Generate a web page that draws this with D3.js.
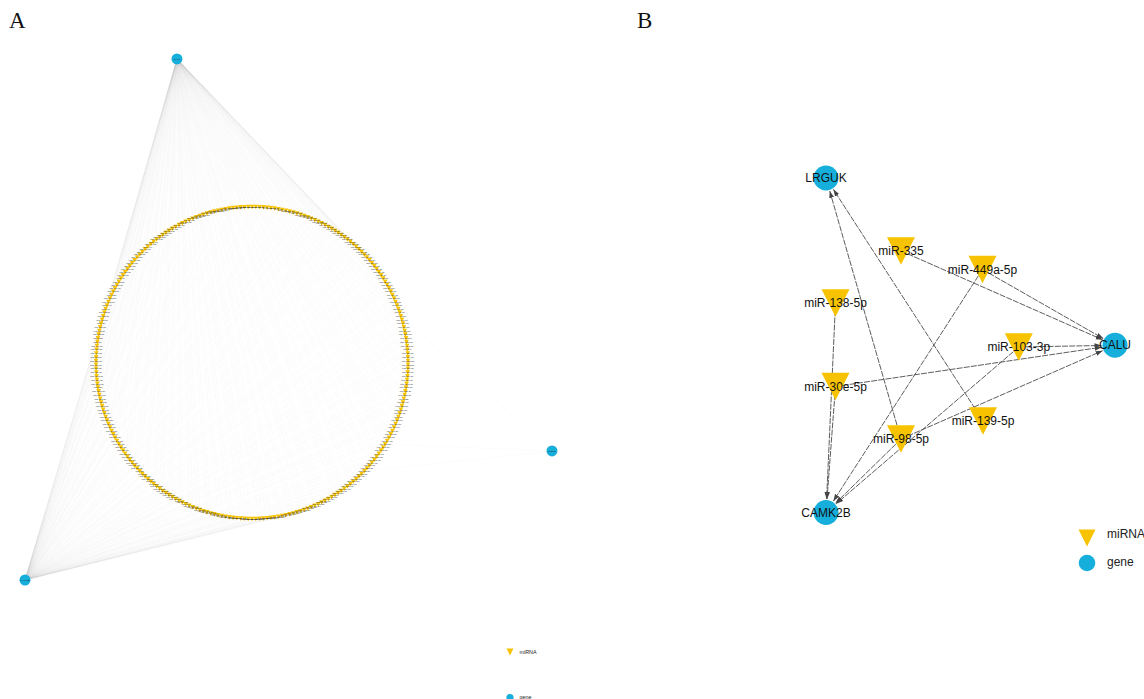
<!DOCTYPE html>
<html><head><meta charset="utf-8">
<script src="https://cdn.jsdelivr.net/npm/d3@7"></script>
<style>body{margin:0;background:#fff}svg{display:block}</style>
</head><body>
<svg id="c" width="1144" height="699"></svg>
<script>
// ---------------- DATA ----------------
const panelLabels = ["A", "B"];
const legendLabels = ["miRNA", "gene"];

// Panel A: full network (miRNAs arranged on a circle, three target genes)
const genesA = ["CALU", "CAMK2B", "LRGUK"];
const mirnasA = ("let-7a-5p let-7b-5p let-7c-5p let-7d-5p let-7e-5p let-7f-5p let-7g-5p let-7i-5p " +
 "miR-1-3p miR-7-5p miR-9-5p miR-10a-5p miR-10b-5p miR-15a-5p miR-15b-5p miR-16-5p miR-17-5p miR-18a-5p " +
 "miR-19a-3p miR-19b-3p miR-20a-5p miR-20b-5p miR-21-5p miR-22-3p miR-23a-3p miR-23b-3p miR-24-3p miR-25-3p " +
 "miR-26a-5p miR-26b-5p miR-27a-3p miR-27b-3p miR-29a-3p miR-29b-3p miR-29c-3p miR-30a-5p miR-30b-5p miR-30c-5p " +
 "miR-30d-5p miR-30e-5p miR-31-5p miR-32-5p miR-33a-5p miR-33b-5p miR-34a-5p miR-34b-5p miR-34c-5p miR-92a-3p " +
 "miR-92b-3p miR-93-5p miR-95-3p miR-96-5p miR-98-5p miR-99a-5p miR-99b-5p miR-100-5p miR-101-3p miR-103a-3p " +
 "miR-105-5p miR-106a-5p miR-106b-5p miR-107 miR-122-5p miR-124-3p miR-125a-5p miR-125b-5p miR-126-3p miR-127-3p " +
 "miR-128-3p miR-129-5p miR-130a-3p miR-130b-3p miR-132-3p miR-133a-3p miR-133b miR-134-5p miR-135a-5p miR-135b-5p " +
 "miR-136-5p miR-137 miR-138-5p miR-139-5p miR-140-5p miR-141-3p miR-142-3p miR-143-3p miR-144-3p miR-145-5p " +
 "miR-146a-5p miR-146b-5p miR-147a miR-148a-3p miR-148b-3p miR-149-5p miR-150-5p miR-151a-3p miR-152-3p miR-153-3p " +
 "miR-154-5p miR-155-5p miR-181a-5p miR-181b-5p miR-181c-5p miR-181d-5p miR-182-5p miR-183-5p miR-184 miR-185-5p " +
 "miR-186-5p miR-187-3p miR-188-5p miR-190a-5p miR-191-5p miR-192-5p miR-193a-3p miR-193b-3p miR-194-5p miR-195-5p " +
 "miR-196a-5p miR-196b-5p miR-197-3p miR-198 miR-199a-5p miR-199b-5p miR-200a-3p miR-200b-3p miR-200c-3p miR-202-3p " +
 "miR-203a-3p miR-204-5p miR-205-5p miR-206 miR-208a-3p miR-210-3p miR-211-5p miR-212-3p miR-214-3p miR-215-5p " +
 "miR-216a-5p miR-217 miR-218-5p miR-219a-5p miR-221-3p miR-222-3p miR-223-3p miR-224-5p miR-296-5p miR-297 " +
 "miR-299-3p miR-300 miR-301a-3p miR-301b-3p miR-302a-3p miR-302b-3p miR-302c-3p miR-302d-3p miR-320a-3p miR-320b " +
 "miR-320c miR-323a-3p miR-324-5p miR-325 miR-326 miR-328-3p miR-329-3p miR-330-3p miR-331-3p miR-335-5p " +
 "miR-337-3p miR-338-3p miR-339-5p miR-340-5p miR-342-3p miR-345-5p miR-346 miR-361-5p miR-362-5p miR-363-3p " +
 "miR-365a-3p miR-367-3p miR-369-3p miR-370-3p miR-371a-3p miR-372-3p miR-373-3p miR-374a-5p miR-374b-5p miR-375 " +
 "miR-376a-3p miR-377-3p miR-378a-3p miR-379-5p miR-380-3p miR-381-3p miR-382-5p miR-383-5p miR-409-3p miR-410-3p " +
 "miR-411-5p miR-421 miR-422a miR-423-5p miR-424-5p miR-425-5p miR-429 miR-431-5p miR-432-5p miR-433-3p " +
 "miR-448 miR-449a miR-449b-5p miR-450a-5p miR-451a miR-452-5p miR-454-3p miR-455-3p miR-483-5p miR-484 " +
 "miR-485-5p miR-486-5p miR-487b-3p miR-488-3p miR-489-3p miR-490-3p miR-491-5p miR-493-5p miR-494-3p miR-495-3p " +
 "miR-496 miR-497-5p miR-498 miR-499a-5p miR-500a-5p miR-501-5p miR-502-3p miR-503-5p miR-504-5p miR-505-3p " +
 "miR-506-3p miR-507 miR-508-3p miR-509-3p miR-510-5p miR-511-5p miR-512-3p miR-513a-5p miR-514a-3p miR-515-5p " +
 "miR-516a-5p miR-517a-3p miR-518a-3p miR-519a-3p miR-520a-3p miR-521 miR-522-3p miR-523-3p miR-524-5p miR-525-5p").split(" ");
// target gene(s) of each miRNA in panel A: a = CALU, b = CAMK2B, c = CALU + CAMK2B, d = CALU + LRGUK
const targetCodesA = ("acbcaabcac bbacacabca acbcabacbc aacbacabca acbcbaacab cadcabacbc abcacbaacb cabacbcaab " +
 "cbacaccdab acbcabdcab cabcacabba cacbcaabca bacbacacbc aacbcabacb cabcaacbac bcabacacbc abcacbaacb cbacabcabc " +
 "acbcaabcab cabacbcaca bcacabcbac acbacabcac bcaacbcaba cbcabacbca abcacabcbc acabcbca").replace(/ /g, "");
const codeGenes = { a: ["CALU"], b: ["CAMK2B"], c: ["CALU", "CAMK2B"], d: ["CALU", "LRGUK"] };

// Panel B: filtered network
const genesB = ["LRGUK", "CALU", "CAMK2B"];
const mirnasB = ["miR-335", "miR-449a-5p", "miR-138-5p", "miR-103-3p", "miR-30e-5p", "miR-139-5p", "miR-98-5p"];
const edgesB = [
  ["miR-335", "CALU"], ["miR-449a-5p", "CALU"], ["miR-449a-5p", "CAMK2B"],
  ["miR-138-5p", "CAMK2B"], ["miR-30e-5p", "CAMK2B"], ["miR-30e-5p", "CALU"],
  ["miR-103-3p", "CALU"], ["miR-103-3p", "CAMK2B"], ["miR-98-5p", "LRGUK"],
  ["miR-98-5p", "CAMK2B"], ["miR-98-5p", "CALU"], ["miR-139-5p", "LRGUK"]
];

// ---------------- LAYOUT (normalized coordinates) ----------------
const layoutGenesA = { CALU: [-0.481, -1.949], CAMK2B: [-1.455, 1.391], LRGUK: [1.923, 0.564] };
const layoutB = {
  LRGUK: [0, 0], CALU: [1, 0.5], CAMK2B: [0, 1],
  "miR-335": [0.2595, 0.218], "miR-449a-5p": [0.5415, 0.2735], "miR-138-5p": [0.0329, 0.3737],
  "miR-103-3p": [0.6671, 0.5052], "miR-30e-5p": [0.0329, 0.6233], "miR-139-5p": [0.5433, 0.7265],
  "miR-98-5p": [0.2595, 0.7803]
};

// ---------------- DRAW ----------------
const svg = d3.select("#c");
const YEL = "#f7c300", BLUE = "#16afdb";
const sans = "Liberation Sans, Arial, Helvetica, sans-serif";

function downTri(w, h) {
  const p = d3.path();
  p.moveTo(-w / 2, -h / 2); p.lineTo(w / 2, -h / 2); p.lineTo(0, h / 2); p.closePath();
  return p.toString();
}

// panel letters
svg.selectAll("text.panel").data(panelLabels).join("text")
  .attr("class", "panel")
  .attr("x", (d, i) => [9, 637][i]).attr("y", 28)
  .attr("font-family", "Liberation Serif, Times New Roman, serif")
  .attr("font-size", 23).attr("fill", "#111").text(d => d);

// ---- Panel A ----
const xA = d3.scaleLinear().domain([-1, 1]).range([96, 408]);
const yA = d3.scaleLinear().domain([-1, 1]).range([207, 519]);
const angA = d3.scaleLinear().domain([0, mirnasA.length]).range([-Math.PI / 2, 1.5 * Math.PI]);
const nodesA = mirnasA.map((m, i) => ({ name: m, x: xA(Math.cos(angA(i))), y: yA(Math.sin(angA(i))), code: targetCodesA[i] || "a" }));
const gA = {};
genesA.forEach(g => gA[g] = { name: g, x: xA(layoutGenesA[g][0]), y: yA(layoutGenesA[g][1]) });
const linksA = [];
nodesA.forEach(n => (codeGenes[n.code] || []).forEach(g => linksA.push({ s: n, t: gA[g] })));

const A = svg.append("g");
A.append("g").selectAll("line").data(linksA).join("line")
  .attr("x1", d => d.s.x).attr("y1", d => d.s.y).attr("x2", d => d.t.x).attr("y2", d => d.t.y)
  .attr("stroke", "#cfcfcf").attr("stroke-width", 0.3).attr("stroke-opacity", 0.22);
A.append("g").selectAll("path").data(nodesA).join("path")
  .attr("d", downTri(4.6, 4.6)).attr("transform", d => `translate(${d.x},${d.y})`).attr("fill", YEL);
A.append("g").selectAll("text").data(nodesA).join("text")
  .attr("x", d => d.x).attr("y", d => d.y).attr("dy", "0.35em").attr("text-anchor", "middle")
  .attr("font-family", sans).attr("font-size", 2.2).attr("fill", "#333").text(d => d.name);
const gAn = A.append("g").selectAll("g").data(Object.values(gA)).join("g")
  .attr("transform", d => `translate(${d.x},${d.y})`);
gAn.append("circle").attr("r", 5.5).attr("fill", BLUE);
gAn.append("text").attr("dy", "0.35em").attr("text-anchor", "middle").attr("font-family", sans)
  .attr("font-size", 2.4).attr("fill", "#222").text(d => d.name);

// legend A
const legA = svg.append("g").attr("transform", "translate(510,652)");
legA.append("path").attr("d", downTri(7, 7)).attr("fill", YEL);
legA.append("circle").attr("cy", 45.5).attr("r", 3.6).attr("fill", BLUE);
legA.selectAll("text").data(legendLabels).join("text")
  .attr("x", 9.5).attr("y", (d, i) => i * 45).attr("dy", "0.35em")
  .attr("font-family", sans).attr("font-size", 5.4).attr("fill", "#222").text(d => d);

// ---- Panel B ----
const xB = d3.scaleLinear().domain([0, 1]).range([826, 1115]);
const yB = d3.scaleLinear().domain([0, 1]).range([178, 512.5]);
const posB = {};
Object.keys(layoutB).forEach(k => posB[k] = { x: xB(layoutB[k][0]), y: yB(layoutB[k][1]) });
const R = 12.5;

svg.append("defs").append("marker").attr("id", "arr")
  .attr("viewBox", "0 0 10 10").attr("refX", 10).attr("refY", 5)
  .attr("markerWidth", 7).attr("markerHeight", 7).attr("markerUnits", "userSpaceOnUse")
  .attr("orient", "auto")
  .append("path").attr("d", "M0,1.5L10,5L0,8.5Z").attr("fill", "#444");

const B = svg.append("g");
B.append("g").selectAll("line").data(edgesB).join("line")
  .each(function (d) {
    const s = posB[d[0]], t = posB[d[1]];
    const dx = t.x - s.x, dy = t.y - s.y, L = Math.hypot(dx, dy);
    d3.select(this).attr("x1", s.x).attr("y1", s.y)
      .attr("x2", t.x - dx / L * (R + 1)).attr("y2", t.y - dy / L * (R + 1));
  })
  .attr("stroke", "#5e5e5e").attr("stroke-width", 1).attr("stroke-dasharray", "6,1.2")
  .attr("marker-end", "url(#arr)");

B.append("g").selectAll("path").data(mirnasB).join("path")
  .attr("d", downTri(28, 27.5)).attr("transform", d => `translate(${posB[d].x},${posB[d].y})`).attr("fill", YEL);
B.append("g").selectAll("circle").data(genesB).join("circle")
  .attr("cx", d => posB[d].x).attr("cy", d => posB[d].y).attr("r", R).attr("fill", BLUE);
B.append("g").selectAll("text").data(mirnasB.concat(genesB)).join("text")
  .attr("x", d => posB[d].x).attr("y", d => posB[d].y).attr("dy", "0.35em").attr("text-anchor", "middle")
  .attr("font-family", sans).attr("font-size", 12).attr("fill", "#111").text(d => d);

// legend B
const legB = svg.append("g").attr("transform", "translate(1087,538)");
legB.append("path").attr("d", downTri(17, 17)).attr("fill", YEL);
legB.append("circle").attr("cy", 25).attr("r", 8.3).attr("fill", BLUE);
legB.selectAll("text").data(legendLabels).join("text")
  .attr("x", 20).attr("y", (d, i) => [-4, 24][i]).attr("dy", "0.35em")
  .attr("font-family", sans).attr("font-size", 12).attr("fill", "#222").text(d => d);
</script>
</body></html>
